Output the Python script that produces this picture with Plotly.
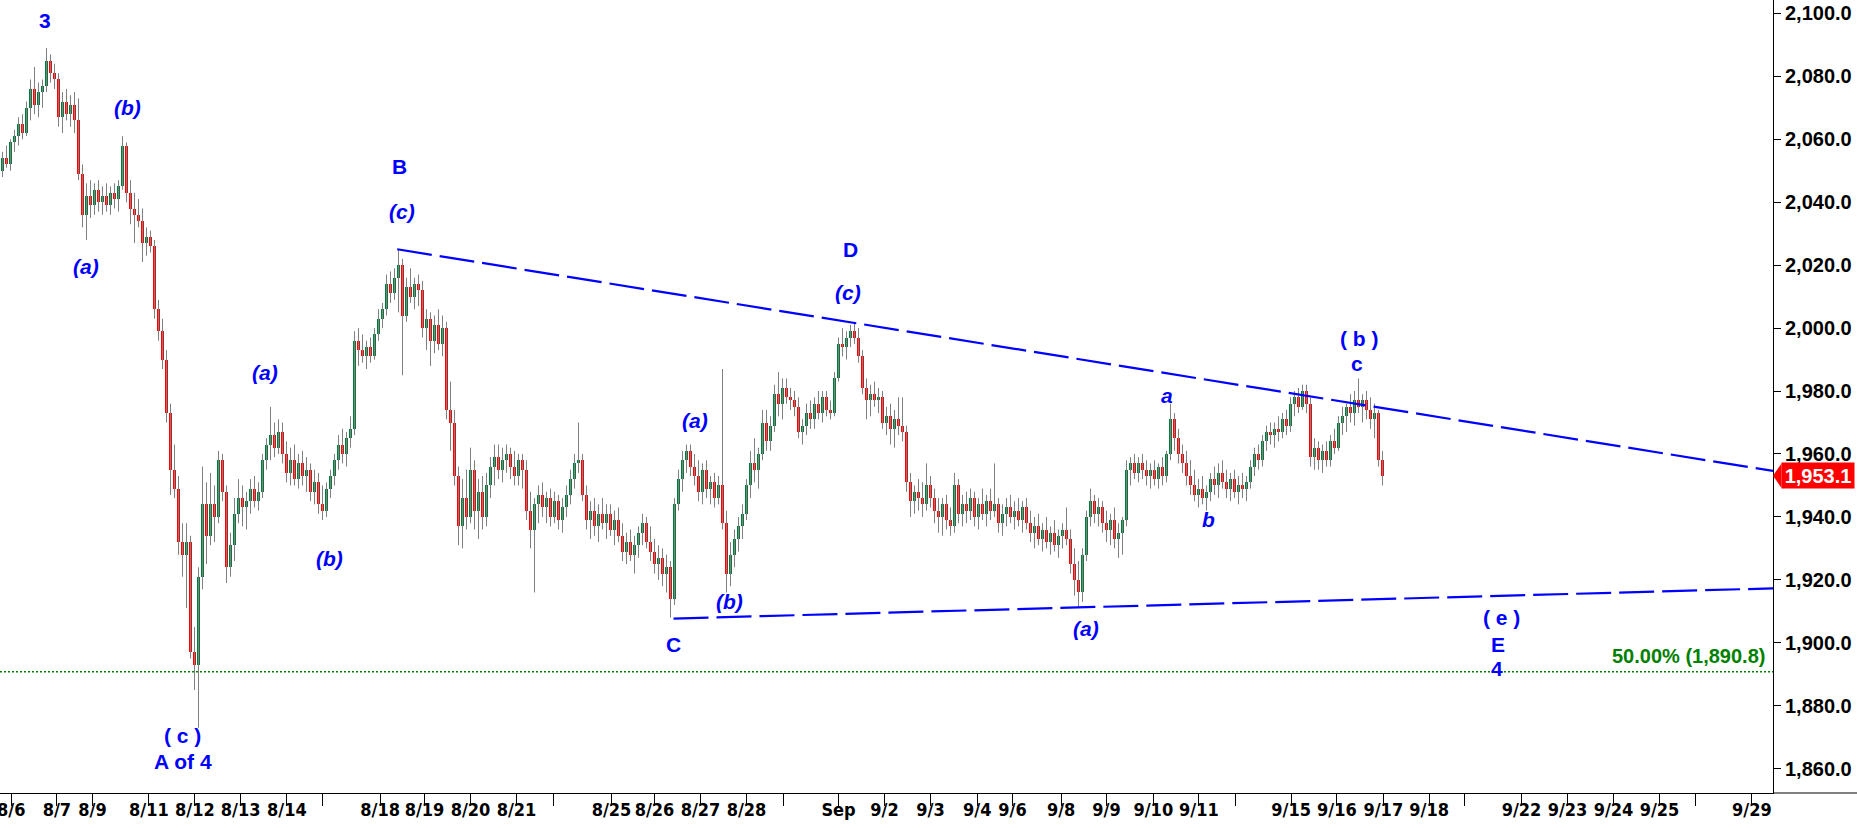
import plotly.graph_objects as go

# ---------------- data (2-hour bars) ----------------
opens = [
 2050,2054,2052,2059,2061,2065,2062,2070,2076,2071,
 2075,2077,2085,2081,2079,2067,2072,2068,2071,2066,
 2049,2036,2042,2039,2044,2040,2042,2039,2043,2041,
 2045,2058,2043,2038,2036,2034,2027,2029,2026,2006,
 1999,1990,1973,1955,1949,1932,1928,1932,1897,1893,
 1921,1944,1934,1944,1940,1958,1948,1924,1931,1941,
 1946,1943,1945,1949,1945,1948,1958,1963,1966,1962,
 1967,1960,1954,1958,1952,1957,1953,1955,1948,1951,
 1944,1942,1949,1953,1958,1963,1960,1965,1968,1996,
 1993,1991,1994,1991,1998,2003,2006,2014,2011,2016,
 2020,2004,2013,2010,2014,2012,2000,2003,1996,2001,
 1995,2000,1974,1970,1953,1937,1946,1940,1955,1942,
 1948,1940,1950,1956,1959,1955,1958,1960,1956,1953,
 1958,1955,1942,1936,1944,1947,1943,1946,1940,1945,
 1939,1943,1947,1952,1957,1958,1947,1939,1942,1937,
 1941,1938,1941,1936,1939,1934,1929,1932,1928,1931,
 1935,1938,1932,1929,1925,1927,1922,1924,1914,1944,
 1952,1958,1961,1956,1953,1948,1955,1949,1951,1946,
 1950,1938,1922,1928,1933,1937,1941,1950,1957,1955,
 1960,1970,1964,1969,1979,1976,1981,1978,1977,1975,
 1967,1969,1973,1971,1976,1973,1978,1974,1973,1984,
 1995,1994,1997,1999,1997,1991,1981,1977,1979,1977,
 1978,1970,1972,1968,1971,1969,1967,1951,1945,1948,
 1946,1944,1950,1946,1942,1940,1944,1939,1937,1950,
 1941,1944,1942,1946,1940,1944,1941,1945,1942,1944,
 1938,1941,1943,1940,1942,1939,1943,1938,1935,1937,
 1933,1936,1932,1935,1931,1934,1936,1933,1925,1920,
 1916,1928,1940,1945,1941,1943,1938,1936,1939,1933,
 1935,1939,1955,1957,1954,1957,1955,1953,1955,1952,
 1956,1953,1960,1971,1965,1960,1957,1953,1950,1947,
 1949,1946,1948,1952,1950,1954,1951,1949,1952,1948,
 1950,1949,1951,1956,1960,1958,1964,1967,1966,1968,
 1967,1971,1969,1976,1978,1975,1980,1976,1959,1962,
 1958,1961,1958,1964,1962,1970,1972,1975,1973,1977,
 1975,1977,1974,1971,1973,1958]

highs = [
 2056,2058,2060,2063,2067,2068,2072,2079,2083,2078,
 2079,2089,2087,2084,2081,2075,2076,2074,2075,2073,
 2052,2046,2047,2046,2047,2045,2046,2045,2046,2047,
 2061,2059,2047,2043,2041,2038,2032,2031,2028,2009,
 2003,1993,1976,1963,1953,1938,1938,1934,1905,1924,
 1956,1951,1954,1950,1961,1960,1950,1935,1946,1952,
 1950,1948,1952,1953,1951,1960,1965,1975,1970,1971,
 1970,1964,1962,1963,1960,1961,1959,1957,1955,1954,
 1950,1951,1955,1960,1966,1968,1967,1972,1999,2000,
 1998,1996,1997,2000,2006,2008,2017,2018,2019,2025,
 2022,2016,2019,2016,2017,2015,2006,2005,2004,2006,
 2004,2002,1983,1974,1956,1952,1955,1962,1958,1952,
 1953,1954,1959,1963,1963,1962,1963,1962,1961,1960,
 1960,1958,1948,1946,1950,1951,1948,1949,1948,1947,
 1946,1950,1955,1960,1970,1960,1950,1945,1946,1944,
 1946,1944,1944,1942,1943,1938,1935,1936,1934,1937,
 1941,1940,1937,1933,1931,1930,1928,1926,1946,1955,
 1961,1963,1963,1960,1958,1957,1958,1953,1954,1953,
 1987,1942,1932,1936,1940,1944,1952,1961,1965,1962,
 1974,1974,1972,1982,1986,1984,1984,1981,1980,1978,
 1971,1976,1977,1978,1980,1980,1980,1977,1986,1997,
 2000,1999,2001,2002,2000,1993,1984,1982,1983,1981,
 1980,1975,1976,1974,1978,1978,1969,1954,1950,1952,
 1951,1957,1953,1949,1946,1946,1947,1943,1954,1952,
 1947,1948,1949,1948,1946,1949,1947,1949,1957,1946,
 1944,1946,1947,1945,1946,1945,1946,1942,1940,1941,
 1938,1940,1937,1939,1936,1938,1943,1936,1930,1926,
 1930,1942,1949,1947,1946,1945,1942,1941,1943,1938,
 1940,1958,1959,1960,1959,1960,1958,1957,1958,1957,
 1959,1961,1976,1973,1968,1963,1961,1958,1955,1952,
 1953,1950,1954,1956,1957,1958,1955,1954,1955,1953,
 1954,1953,1958,1962,1963,1966,1969,1970,1970,1972,
 1973,1974,1978,1980,1981,1982,1982,1978,1965,1964,
 1963,1964,1966,1968,1972,1975,1976,1979,1980,1984,
 1979,1980,1978,1976,1974,1961]

lows = [
 2048,2051,2050,2056,2058,2060,2061,2066,2068,2067,
 2070,2075,2078,2076,2064,2062,2066,2064,2062,2047,
 2032,2028,2035,2036,2037,2036,2037,2036,2038,2037,
 2044,2040,2033,2027,2032,2021,2023,2024,2003,1996,
 1987,1970,1947,1946,1928,1921,1911,1895,1885,1873,
 1917,1925,1931,1932,1938,1945,1919,1921,1926,1938,
 1937,1936,1941,1943,1942,1946,1955,1958,1959,1960,
 1957,1951,1950,1950,1949,1950,1948,1945,1944,1941,
 1939,1940,1946,1950,1955,1957,1956,1962,1966,1988,
 1989,1987,1989,1990,1996,2000,2004,2008,2009,2005,
 1985,2002,2008,2006,2007,1997,1993,1988,1992,1993,
 1991,1971,1961,1950,1931,1930,1936,1938,1936,1933,
 1936,1937,1946,1950,1952,1951,1954,1952,1950,1950,
 1949,1939,1930,1916,1938,1940,1938,1937,1938,1936,
 1935,1940,1944,1949,1954,1945,1936,1933,1934,1932,
 1936,1933,1934,1931,1932,1926,1925,1926,1922,1927,
 1931,1930,1926,1922,1920,1918,1916,1908,1912,1942,
 1948,1954,1953,1950,1945,1944,1946,1944,1943,1944,
 1936,1916,1918,1924,1929,1933,1939,1946,1951,1949,
 1958,1961,1961,1967,1972,1971,1976,1974,1972,1965,
 1963,1966,1968,1968,1971,1970,1972,1971,1972,1983,
 1991,1990,1994,1995,1989,1979,1971,1972,1975,1973,
 1968,1966,1963,1962,1966,1964,1948,1940,1941,1942,
 1940,1942,1943,1938,1935,1934,1936,1934,1935,1938,
 1937,1938,1939,1937,1936,1939,1937,1939,1940,1935,
 1934,1937,1938,1936,1937,1935,1936,1932,1930,1931,
 1929,1930,1928,1929,1927,1930,1931,1922,1915,1911,
 1913,1926,1937,1938,1937,1935,1932,1931,1930,1927,
 1928,1937,1950,1952,1951,1952,1950,1949,1950,1949,
 1950,1951,1958,1961,1957,1954,1950,1947,1945,1943,
 1944,1942,1945,1947,1946,1949,1946,1945,1946,1944,
 1946,1945,1949,1953,1955,1956,1961,1963,1962,1964,
 1965,1966,1967,1972,1973,1974,1973,1956,1955,1955,
 1954,1956,1956,1960,1961,1966,1967,1970,1969,1973,
 1970,1971,1968,1965,1956,1950]

closes = [
 2054,2052,2059,2061,2065,2062,2070,2076,2071,2075,
 2077,2085,2081,2079,2067,2072,2068,2071,2066,2049,
 2036,2042,2039,2044,2040,2042,2039,2043,2041,2045,
 2058,2043,2038,2036,2034,2027,2029,2026,2006,1999,
 1990,1973,1955,1949,1932,1928,1932,1897,1893,1921,
 1944,1934,1944,1940,1958,1948,1924,1931,1941,1946,
 1943,1945,1949,1945,1948,1958,1963,1966,1962,1967,
 1960,1954,1958,1952,1957,1953,1955,1948,1951,1944,
 1942,1949,1953,1958,1963,1960,1965,1968,1996,1993,
 1991,1994,1991,1998,2003,2006,2014,2011,2016,2020,
 2004,2013,2010,2014,2012,2000,2003,1996,2001,1995,
 2000,1974,1970,1953,1937,1946,1940,1955,1942,1948,
 1940,1950,1956,1959,1955,1958,1960,1956,1953,1958,
 1955,1942,1936,1944,1947,1943,1946,1940,1945,1939,
 1943,1947,1952,1957,1958,1947,1939,1942,1937,1941,
 1938,1941,1936,1939,1934,1929,1932,1928,1931,1935,
 1938,1932,1929,1925,1927,1922,1924,1914,1944,1952,
 1958,1961,1956,1953,1948,1955,1949,1951,1946,1950,
 1938,1922,1928,1933,1937,1941,1950,1957,1955,1960,
 1970,1964,1969,1979,1976,1981,1978,1977,1975,1967,
 1969,1973,1971,1976,1973,1978,1974,1973,1984,1995,
 1994,1997,1999,1997,1991,1981,1977,1979,1977,1978,
 1970,1972,1968,1971,1969,1967,1951,1945,1948,1946,
 1944,1950,1946,1942,1940,1944,1939,1937,1950,1941,
 1944,1942,1946,1940,1944,1941,1945,1942,1944,1938,
 1941,1943,1940,1942,1939,1943,1938,1935,1937,1933,
 1936,1932,1935,1931,1934,1936,1933,1925,1920,1916,
 1928,1940,1945,1941,1943,1938,1936,1939,1933,1935,
 1939,1955,1957,1954,1957,1955,1953,1955,1952,1956,
 1953,1960,1971,1965,1960,1957,1953,1950,1947,1949,
 1946,1948,1952,1950,1954,1951,1949,1952,1948,1950,
 1949,1951,1956,1960,1958,1964,1967,1966,1968,1967,
 1971,1969,1976,1978,1975,1980,1976,1959,1962,1958,
 1961,1958,1964,1962,1970,1972,1975,1973,1977,1975,
 1977,1974,1971,1973,1958,1953.1]

# x-axis labels (bar-index positions) ; '' = unlabeled tick
tick_pos = [2.2, 13.6, 22.5, 36.6, 48.1, 59.55, 71.1, 80.0, 94.4, 105.5, 117.0, 128.5,
            137.75, 152.25, 163.0, 174.5, 186.0, 195.25, 209.0, 220.5, 232.0, 243.7,
            252.5, 264.65, 276.0, 287.7, 299.1, 308.2, 322.15, 333.6, 345.2, 356.65,
            365.5, 379.75, 391.25, 402.75, 414.25, 423.25, 437.35]
tick_text = ["8/6", "8/7", "8/9", "8/11", "8/12", "8/13", "8/14", "", "8/18", "8/19",
             "8/20", "8/21", "", "8/25", "8/26", "8/27", "8/28", "", "Sep", "9/2", "9/3",
             "9/4", "9/6", "9/8", "9/9", "9/10", "9/11", "", "9/15", "9/16", "9/17",
             "9/18", "", "9/22", "9/23", "9/24", "9/25", "", "9/29"]
price_ticks = [1860, 1880, 1900, 1920, 1940, 1960, 1980, 2000, 2020, 2040, 2060, 2080, 2100]

# wave labels: (text, x, price, italic)
wave_labels = [
    ("3", 10.5, 2097.6, False), ("(b)", 31.25, 2070.1, True), ("(a)", 20.9, 2019.7, True),
    ("B", 99.25, 2051.5, False), ("(c)", 99.75, 2036.9, True), ("(a)", 65.5, 1985.9, True),
    ("(b)", 81.75, 1926.9, True), ("( c )", 45.0, 1870.4, False), ("A of 4", 45.0, 1862.2, False),
    ("C", 167.75, 1899.6, False), ("(a)", 173.0, 1970.5, True), ("(b)", 181.75, 1913.0, True),
    ("D", 212.0, 2025.0, False), ("(c)", 211.25, 2011.3, True), ("(a)", 270.85, 1904.7, True),
    ("a", 291.2, 1978.7, True), ("b", 301.4, 1939.3, True), ("( b )", 339.1, 1996.7, False),
    ("c", 338.5, 1988.8, False), ("( e )", 374.75, 1908.1, False), ("E", 373.9, 1899.6, False),
    ("4", 373.5, 1891.7, False),
]
upper_line = [(98.675, 2025.05), (442.625, 1954.6)]
lower_line = [(167.75, 1907.7), (442.625, 1917.3)]
fib_level = 1890.8
last_price = closes[-1]

# ---------------- figure ----------------
X_MIN, X_MAX = -0.625, 442.625
Y_MIN, Y_MAX = 1852.27, 2104.26
GREEN, RED, GREY, BLUE = "#007A3D", "#FF0000", "#808080", "#0000FF"
idx = list(range(len(closes)))

fig = go.Figure()
fig.add_trace(go.Ohlc(
    x=idx, open=opens, high=highs, low=lows, close=closes, tickwidth=0,
    increasing=dict(line=dict(color=GREY, width=1)),
    decreasing=dict(line=dict(color=GREY, width=1)),
    showlegend=False, hoverinfo="skip"))
fig.add_trace(go.Bar(
    x=idx,
    y=[max(abs(c - o), 0.5) for o, c in zip(opens, closes)],
    base=[min(o, c) for o, c in zip(opens, closes)],
    width=0.75,
    marker=dict(color=[GREEN if c >= o else RED for o, c in zip(opens, closes)], line=dict(width=0)),
    showlegend=False, hoverinfo="skip"))

shapes = []
for (x0, y0), (x1, y1) in [upper_line, lower_line]:
    shapes.append(dict(type="line", xref="x", yref="y", x0=x0, y0=y0, x1=x1, y1=y1,
                       line=dict(color=BLUE, width=2.2, dash="35px,8px")))
shapes.append(dict(type="line", xref="x", yref="y", x0=X_MIN, x1=X_MAX, y0=fib_level, y1=fib_level,
                   line=dict(color="#008000", width=1.3, dash="2px,2px")))
shapes.append(dict(type="line", xref="paper", yref="paper", x0=1, x1=1.06, y0=0, y1=0,
                   line=dict(color="black", width=1)))
shapes.append(dict(type="path", xref="paper", yref="y",
                   path=f"M 1,{last_price} L 1.0048,{last_price + 3.9} L 1.0048,{last_price - 3.9} Z",
                   fillcolor=RED, line=dict(width=0)))

annotations = []
for text, x, y, italic in wave_labels:
    annotations.append(dict(text=text, x=x, y=y, xref="x", yref="y", showarrow=False,
                            xanchor="center", yanchor="middle",
                            font=dict(family="Arial, Liberation Sans, sans-serif", size=21,
                                      color=BLUE, weight="bold",
                                      style="italic" if italic else "normal")))
annotations.append(dict(text=f"50.00% ({fib_level:,.1f})", x=0.9966, y=1895.8, xref="paper", yref="y",
                        showarrow=False, xanchor="right", yanchor="middle",
                        font=dict(family="Arial, Liberation Sans, sans-serif", size=20,
                                  color="#008000", weight="bold")))
annotations.append(dict(text=f"{last_price:,.1f}", x=1, xshift=8, y=last_price, xref="paper", yref="y",
                        showarrow=False, xanchor="left", yanchor="middle", bgcolor=RED,
                        width=72, height=25, borderpad=0, align="center",
                        font=dict(family="Arial, Liberation Sans, sans-serif", size=20,
                                  color="white", weight="bold")))

fig.update_layout(
    width=1857, height=828,
    margin=dict(l=0, r=84, t=0, b=35, autoexpand=False),
    paper_bgcolor="white", plot_bgcolor="white",
    bargap=0, barmode="overlay",
    shapes=shapes, annotations=annotations,
    xaxis=dict(range=[X_MIN, X_MAX], rangeslider=dict(visible=False), automargin=False,
               tickmode="array", tickvals=tick_pos, ticktext=tick_text, tickangle=0,
               ticklabeloverflow="allow", ticklabelstandoff=-12,
               ticks="outside", ticklen=12, tickcolor="black", tickwidth=1,
               showline=True, linecolor="black", linewidth=1, showgrid=False, zeroline=False,
               tickfont=dict(family="DejaVu Sans Condensed, sans-serif",
                             size=18, color="black", weight="bold")),
    yaxis=dict(range=[Y_MIN, Y_MAX], side="right", tickmode="array", tickvals=price_ticks,
               automargin=False,
               tickformat=",.1f", ticks="outside", ticklen=7, tickcolor="black",
               showline=True, linecolor="black", linewidth=1, showgrid=False, zeroline=False,
               tickfont=dict(family="Arial, Liberation Sans, sans-serif", size=20,
                             color="black", weight="bold")),
)

fig.write_html("out.html", config={"displayModeBar": False},
               post_script="document.body.style.margin='0';document.body.style.overflow='hidden';")
